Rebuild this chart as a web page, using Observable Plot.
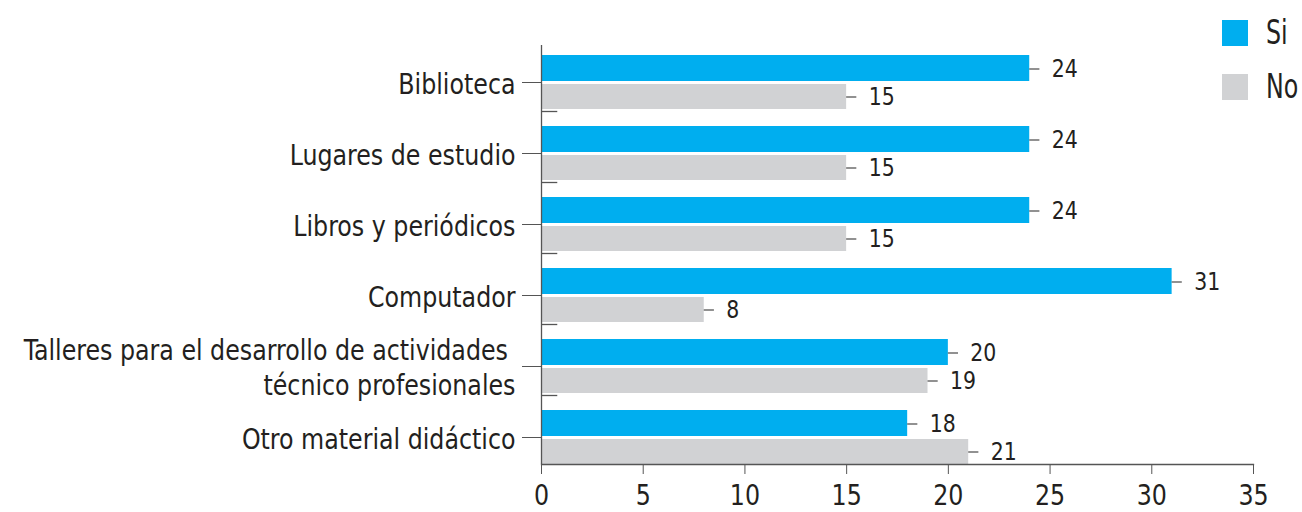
<!DOCTYPE html>
<html>
<head>
<meta charset="utf-8">
<script src="https://cdn.jsdelivr.net/npm/d3@7"></script>
<script src="https://cdn.jsdelivr.net/npm/@observablehq/plot@0.6"></script>
<style>
  html, body { margin: 0; padding: 0; background: #fff; }
  #wrap { position: relative; width: 1302px; height: 512px; font-family: "Liberation Sans Narrow", "DejaVu Sans Condensed", "Liberation Sans", sans-serif; color: #231f20; }
  #legend { position: absolute; left: 1222px; top: 20px; }
  .item { display: flex; align-items: center; height: 26px; margin-bottom: 28px; }
  .sw { width: 26px; height: 26px; margin-right: 18px; flex: none; }
  .lab { font-size: 33px; line-height: 26px; display: inline-block; transform: scaleX(0.8); transform-origin: left center; }
</style>
</head>
<body>
<div id="wrap"><div id="legend"></div></div>
<script>
const categories = [
  "Biblioteca",
  "Lugares de estudio",
  "Libros y periódicos",
  "Computador",
  "Talleres para el desarrollo de actividades \ntécnico profesionales",
  "Otro material didáctico"
];
const series = ["Si", "No"];
const siValues = [24, 24, 24, 31, 20, 18];
const noValues = [15, 15, 15, 8, 19, 21];
const xTicks = [0, 5, 10, 15, 20, 25, 30, 35];
const colors = ["#00aeef", "#d1d2d4"];

const siData = categories.map((c, i) => ({category: c, value: siValues[i]}));
const noData = categories.map((c, i) => ({category: c, value: noValues[i]}));

const font = '"Liberation Sans Narrow", "DejaVu Sans Condensed", "Liberation Sans", sans-serif';
const ink = "#231f20";
const line = "#555555";

const chart = Plot.plot({
  width: 1302,
  height: 512,
  marginLeft: 541,
  marginRight: 49,
  marginTop: 45,
  marginBottom: 48,
  style: {fontFamily: font, color: ink, background: "transparent", overflow: "visible"},
  x: {domain: [0, 35]},
  y: {domain: categories, paddingInner: 0.24, paddingOuter: 0.063, align: 1},
  marks: [
    Plot.barX(siData, {y: "category", x: "value", fill: colors[0], insetBottom: 28, insetTop: 0}),
    Plot.barX(noData, {y: "category", x: "value", fill: colors[1], insetTop: 29, insetBottom: 0}),
    Plot.ruleY(siData, {y: "category", x1: "value", x2: d => d.value + 0.5, dy: -13.5, stroke: line, strokeWidth: 1.3}),
    Plot.ruleY(noData, {y: "category", x1: "value", x2: d => d.value + 0.5, dy: 14.5, stroke: line, strokeWidth: 1.3}),
    Plot.text(siData, {y: "category", x: "value", text: d => String(d.value), dx: 22, dy: -13.5, textAnchor: "start", fontSize: 25, fill: ink}),
    Plot.text(noData, {y: "category", x: "value", text: d => String(d.value), dx: 22, dy: 14.5, textAnchor: "start", fontSize: 25, fill: ink}),
    Plot.ruleY(categories.slice(0, categories.length - 1), {y: d => d, x1: 0, x2: 0.8, dy: 29, stroke: line, strokeWidth: 1.3}),
    Plot.ruleX([0], {stroke: line, strokeWidth: 1.3}),
    Plot.frame({anchor: "bottom", stroke: line, strokeWidth: 1.3}),
    Plot.axisY({tickSize: 19, tickPadding: 7, fontSize: 29, lineHeight: 1.2, label: null, stroke: line, fill: ink}),
    Plot.axisX({ticks: xTicks, tickSize: 10, tickPadding: 10, fontSize: 29, label: null, stroke: line, fill: ink})
  ]
});

// condense glyphs horizontally (no narrow font installed), scaling about each text's anchor point
chart.querySelectorAll("text").forEach(t => {
  const x = parseFloat(t.getAttribute("x")) || 0;
  const y = parseFloat(t.getAttribute("y")) || 0;
  const tr = t.getAttribute("transform") || "";
  t.setAttribute("transform", `${tr} translate(${x},${y}) scale(0.91,1) translate(${-x},${-y})`.trim());
});

document.getElementById("wrap").prepend(chart);

const legend = document.getElementById("legend");
series.forEach((s, i) => {
  const item = document.createElement("div");
  item.className = "item";
  const sw = document.createElement("div");
  sw.className = "sw";
  sw.style.background = colors[i];
  const lab = document.createElement("span");
  lab.className = "lab";
  lab.textContent = s;
  item.appendChild(sw);
  item.appendChild(lab);
  legend.appendChild(item);
});
</script>
</body>
</html>
